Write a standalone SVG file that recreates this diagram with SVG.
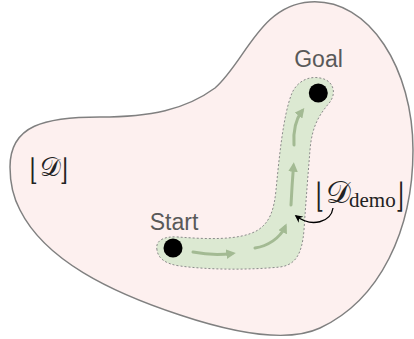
<svg xmlns="http://www.w3.org/2000/svg" width="414" height="339" viewBox="0 0 414 339">
<defs>
<style>
.lbl{font-family:"Liberation Sans",Arial,sans-serif;font-size:23px;fill:#595959;text-anchor:middle}
.math{font-family:"DejaVu Serif","Liberation Serif",serif;fill:#222}
.rm{font-family:"Liberation Serif","DejaVu Serif",serif;fill:#222}
.garrow{fill:none;stroke:#a3ba93;stroke-width:3;stroke-linecap:round}
</style>
<marker id="gh" viewBox="0 0 10 10" refX="6" refY="5" markerWidth="3.2" markerHeight="3.2" orient="auto" markerUnits="strokeWidth">
<path d="M0,0 L10,5 L0,10 Z" fill="#a3ba93"/>
</marker>
<marker id="bh" viewBox="0 0 10 10" refX="8" refY="5" markerWidth="6" markerHeight="6" orient="auto" markerUnits="strokeWidth">
<path d="M0,0 L10,5 L0,10 L3,5 Z" fill="#000"/>
</marker>
</defs>
<g id="space-D">
<path d="M10,167 C10,125 45,117 100,117 C150,117 185,110 215,88 C245,62 260,5 310,2 C370,-2 413,70 413,150 C413,230 380,300 320,328 C290,342 240,335 180,315 C110,292 45,260 20,210 C12,195 10,180 10,167 Z" fill="#fdf0ef" stroke="#808080" stroke-width="1.5"/>
</g>
<g id="demo-region">
<path d="M157,250 C155,241 163,236 178,237 C205,239 240,241 258,230 C270,222 274,210 276,190 C279,160 283,115 292,93 C298,80 310,76 320,78 C333,80 337,92 330,102 C320,114 312,125 310,150 C308,175 306,200 304,230 C302,255 295,265 280,267 C250,270 210,270 180,266 C165,264 158,258 157,250 Z" fill="#dce9d2" stroke="#8a8a8a" stroke-width="1" stroke-dasharray="2 2"/>
</g>
<g id="connectors">
<path class="garrow" d="M193,252 Q213,256 232,253.5" marker-end="url(#gh)"/>
<path class="garrow" d="M255,248 C268,246 280,238 285,227" marker-end="url(#gh)"/>
<path class="garrow" d="M291,205 Q292,185 293.5,166" marker-end="url(#gh)"/>
<path class="garrow" d="M294,145 C293,130 296,119 302,111" marker-end="url(#gh)"/>
<path d="M333,208 C331,222 312,228 296,216" fill="none" stroke="#000" stroke-width="1.3" marker-end="url(#bh)"/>
</g>
<g id="start">
<circle cx="173" cy="248" r="9.5" fill="#000"/>
<text class="lbl" x="174" y="230" font-size="24">Start</text>
</g>
<g id="goal">
<circle cx="318.3" cy="93" r="9.5" fill="#000"/>
<text class="lbl" x="318.5" y="67">Goal</text>
</g>
<g id="label-D">
<text class="math" transform="translate(30,180) scale(1,1.5)" font-size="20">⌊</text>
<text class="math" x="40" y="176" font-size="26">𝒟</text>
<text class="math" transform="translate(60,180) scale(1,1.5)" font-size="20">⌋</text>
</g>
<g id="label-Ddemo">
<text class="math" transform="translate(316,207) scale(1,1.7)" font-size="20">⌊</text>
<text class="math" x="326" y="203" font-size="31">𝒟</text>
<text class="rm" x="349" y="207" font-size="21">demo</text>
<text class="math" transform="translate(396,207) scale(1,1.7)" font-size="20">⌋</text>
</g>
</svg>
